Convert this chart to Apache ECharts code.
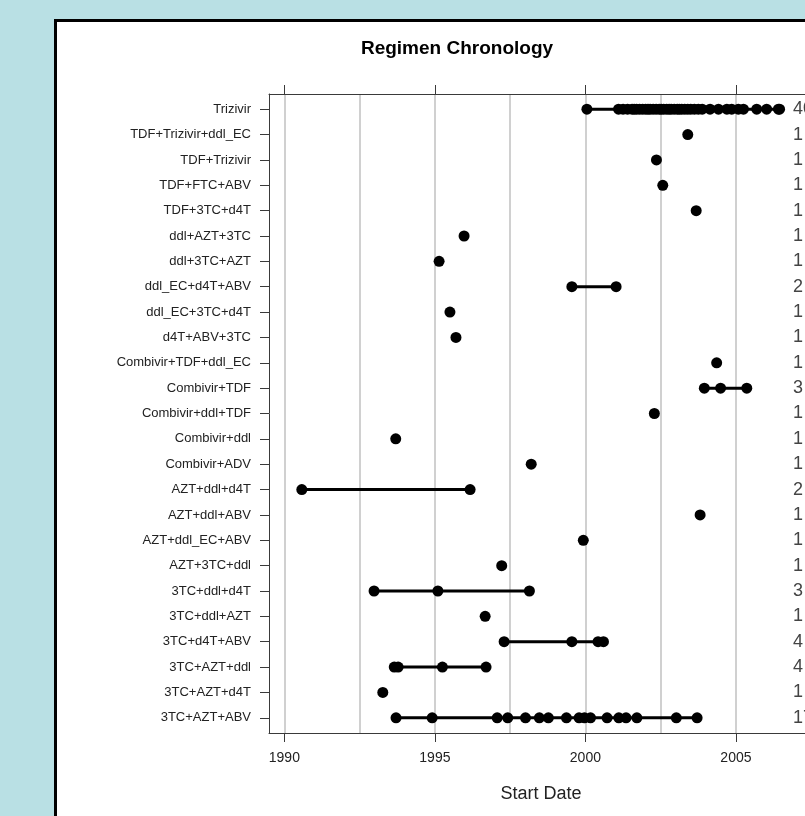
<!DOCTYPE html>
<html>
<head>
<meta charset="utf-8">
<script src="https://cdn.jsdelivr.net/npm/echarts@6/dist/echarts.min.js"></script>
<style>
  html, body { margin: 0; padding: 0; width: 805px; height: 816px; overflow: hidden; background: #b9e0e4; }
  .panel { position: absolute; left: 54px; top: 19px; width: 900px; height: 900px; background: #fff; border-left: 3px solid #000; border-top: 3px solid #000; }
  #chart { position: absolute; left: 0; top: 0; width: 900px; height: 816px; }
</style>
</head>
<body>
<div class="panel"></div>
<div id="chart"></div>
<script>
// regimens, top row first
const regimens = [
  'Trizivir', 'TDF+Trizivir+ddl_EC', 'TDF+Trizivir', 'TDF+FTC+ABV', 'TDF+3TC+d4T',
  'ddl+AZT+3TC', 'ddl+3TC+AZT', 'ddl_EC+d4T+ABV', 'ddl_EC+3TC+d4T', 'd4T+ABV+3TC',
  'Combivir+TDF+ddl_EC', 'Combivir+TDF', 'Combivir+ddl+TDF', 'Combivir+ddl', 'Combivir+ADV',
  'AZT+ddl+d4T', 'AZT+ddl+ABV', 'AZT+ddl_EC+ABV', 'AZT+3TC+ddl', '3TC+ddl+d4T',
  '3TC+ddl+AZT', '3TC+d4T+ABV', '3TC+AZT+ddl', '3TC+AZT+d4T', '3TC+AZT+ABV'
]

const counts = [40, 1, 1, 1, 1, 1, 1, 2, 1, 1, 1, 3, 1, 1, 1, 2, 1, 1, 1, 3, 1, 4, 4, 1, 17]

// start dates (decimal years) for each regimen, same order
const startDates = [
  [2000.05, 2001.10, 2001.25, 2001.40, 2001.55, 2001.62, 2001.70, 2001.80, 2001.90, 2002.00,
   2002.08, 2002.15, 2002.25, 2002.35, 2002.45, 2002.52, 2002.60, 2002.70, 2002.78, 2002.85,
   2002.95, 2003.05, 2003.12, 2003.20, 2003.30, 2003.40, 2003.50, 2003.62, 2003.75, 2003.88,
   2004.14, 2004.42, 2004.70, 2004.86, 2005.08, 2005.25, 2005.69, 2006.02, 2006.41, 2006.45],
  [2003.40],
  [2002.36],
  [2002.57],
  [2003.68],
  [1995.97],
  [1995.14],
  [1999.55, 2001.02],
  [1995.50],
  [1995.70],
  [2004.36],
  [2003.95, 2004.49, 2005.36],
  [2002.29],
  [1993.70],
  [1998.20],
  [1990.58, 1996.17],
  [2003.81],
  [1999.93],
  [1997.22],
  [1992.98, 1995.10, 1998.14],
  [1996.67],
  [1997.30, 1999.55, 2000.42, 2000.60],
  [1993.65, 1993.78, 1995.25, 1996.70],
  [1993.27],
  [1993.71, 1994.91, 1997.07, 1997.42, 1998.01, 1998.47, 1998.77, 1999.37, 1999.79, 1999.97,
   2000.17, 2000.72, 2001.11, 2001.35, 2001.71, 2003.02, 2003.71]
]

const yearTicks = [1990, 1995, 2000, 2005]
const gridYears = [1990, 1992.5, 1995, 1997.5, 2000, 2002.5, 2005, 2007.5]
const rowIdx = regimens.map((_, i) => i)

const font = "'Liberation Sans', Arial, sans-serif"
const axisColor = '#3a3a3a'
const xMin = 1989.49
const xMax = 2007.56

const chart = echarts.init(document.getElementById('chart'), null, { renderer: 'canvas' })

const xBase = {
  type: 'value',
  min: xMin,
  max: xMax,
  splitLine: { show: false },
}

chart.setOption({
  animation: false,
  textStyle: { fontFamily: font },
  title: {
    text: 'Regimen Chronology',
    left: 452,
    top: 34,
    textAlign: 'center',
    textStyle: { fontFamily: font, fontSize: 19, fontWeight: 'bold', color: '#000' },
  },
  grid: { left: 269, top: 94, width: 544, height: 639 },
  xAxis: [
    {
      ...xBase,
      position: 'bottom',
      axisLine: { onZero: false, lineStyle: { color: axisColor, width: 1 } },
      axisTick: { length: 9, customValues: yearTicks, lineStyle: { color: axisColor } },
      axisLabel: {
        customValues: yearTicks,
        formatter: (v) => String(v),
        margin: 18,
        fontSize: 14,
        color: '#222',
        fontFamily: font,
      },
      name: 'Start Date',
      nameLocation: 'middle',
      nameGap: 52,
      nameTextStyle: { fontSize: 18, color: '#222', fontFamily: font },
    },
    {
      ...xBase,
      position: 'top',
      axisLine: { onZero: false, lineStyle: { color: axisColor, width: 1 } },
      axisTick: { length: 9, customValues: yearTicks, lineStyle: { color: axisColor } },
      axisLabel: { show: false },
    },
    {
      ...xBase,
      position: 'bottom',
      axisLine: { show: false, onZero: false },
      axisTick: { show: false, customValues: gridYears },
      axisLabel: { show: false },
      splitLine: { show: true, lineStyle: { color: '#d0d0d0', width: 2 } },
    },
  ],
  yAxis: [
    {
      type: 'value',
      inverse: true,
      min: -0.6,
      max: 24.6,
      position: 'left',
      splitLine: { show: false },
      axisLine: { show: true, onZero: false, lineStyle: { color: axisColor, width: 1 } },
      axisTick: { show: true, length: 9, customValues: rowIdx, lineStyle: { color: axisColor } },
      axisLabel: {
        customValues: rowIdx,
        formatter: (v) => regimens[v],
        margin: 18,
        fontSize: 13,
        color: '#222',
        fontFamily: font,
      },
    },
    {
      type: 'value',
      inverse: true,
      min: -0.6,
      max: 24.6,
      position: 'right',
      splitLine: { show: false },
      axisLine: { show: false, onZero: false },
      axisTick: { show: false, customValues: rowIdx },
      axisLabel: {
        inside: true,
        align: 'left',
        margin: 20,
        customValues: rowIdx,
        formatter: (v) => String(counts[v]),
        fontSize: 18,
        color: '#444',
        fontFamily: font,
      },
    },
  ],
  series: startDates.map((dates, i) => ({
    type: 'line',
    name: regimens[i],
    xAxisIndex: 0,
    yAxisIndex: 0,
    data: dates.map((d) => [d, i]),
    symbol: 'circle',
    symbolSize: 11,
    showSymbol: true,
    silent: true,
    z: 5,
    itemStyle: { color: '#000' },
    lineStyle: { color: '#000', width: 3 },
  })),
})
</script>
</body>
</html>
